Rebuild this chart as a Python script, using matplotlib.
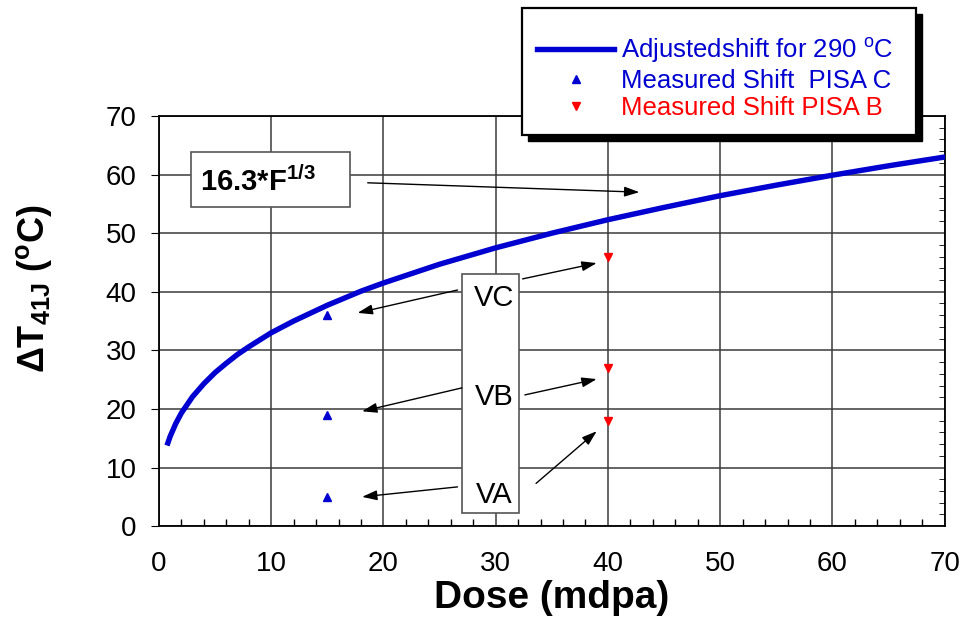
import numpy as np
import matplotlib
matplotlib.use('Agg')
import matplotlib.pyplot as plt
from matplotlib.patches import Rectangle
from matplotlib.lines import Line2D

plt.rcParams['font.family'] = ['Liberation Sans', 'DejaVu Sans']
plt.rcParams['mathtext.fontset'] = 'custom'
plt.rcParams['mathtext.rm'] = 'Liberation Sans'
plt.rcParams['mathtext.bf'] = 'Liberation Sans:bold'

# adjusted shift curve
dose = [0.8, 1, 1.5, 2, 3, 4, 5, 6, 7, 8, 10, 12, 15, 18, 20, 25, 30, 35,
        40, 45, 50, 55, 60, 65, 70]
shift = [14.2, 15.3, 17.5, 19.3, 22.1, 24.3, 26.2, 27.8, 29.3, 30.6, 33.0,
         35.0, 37.7, 40.1, 41.5, 44.7, 47.5, 50.0, 52.3, 54.4, 56.4, 58.2,
         59.9, 61.5, 63.0]

# measured shifts
pisa_c_dose = [15, 15, 15]
pisa_c_shift = [36, 19, 5]
pisa_b_dose = [40, 40, 40]
pisa_b_shift = [46, 27, 18]

labels = ['Adjustedshift for 290 $^{\\mathrm{o}}$C', 'Measured Shift  PISA C',
          'Measured Shift PISA B']

blue = '#0000d0'
red = '#ff0000'

fig = plt.figure(figsize=(9.63, 6.19), dpi=100)
ax = fig.add_axes([0.165, 0.150, 0.816, 0.6626])

ax.plot(dose, shift, color=blue, lw=3.9, zorder=4)
ax.plot(pisa_c_dose, pisa_c_shift, '^', color=blue, ms=6, zorder=4)
ax.plot(pisa_b_dose, pisa_b_shift, 'v', color=red, ms=6, zorder=4)

ax.set_xlim(0, 70)
ax.set_ylim(0, 70)
ax.set_xticks(np.arange(0, 71, 10))
ax.set_yticks(np.arange(0, 71, 10))
ax.set_xticks(np.arange(0, 71, 2), minor=True)
ax.set_yticks(np.arange(0, 71, 2), minor=True)
ax.grid(True, which='major', color='#3a3a3a', lw=1.1, zorder=0)
ax.set_axisbelow(True)
ax.tick_params(axis='x', which='major', direction='in', length=0, labelsize=20, pad=18)
ax.tick_params(axis='x', which='minor', direction='in', length=5, width=1)
ax.tick_params(axis='y', which='major', direction='out', length=6, labelsize=20, pad=10)
ax.tick_params(axis='y', which='minor', direction='in', left=False, right=True, length=4)
for s in ax.spines.values():
    s.set_linewidth(1.3)

ax.set_xlabel('Dose (mdpa)', fontsize=28, fontweight='bold', labelpad=2)
ax.set_ylabel('ΔT$_{\\mathbf{41J}}$ ($^{\\mathbf{o}}$C)', fontsize=26,
              fontweight='bold')
ax.yaxis.set_label_coords(-0.133, 0.58)

# formula box
ax.add_patch(Rectangle((2.9, 54.5), 14.1, 9.4, facecolor='white',
                       edgecolor='#555555', lw=1.2, zorder=3))
ax.text(3.7, 57.2, '16.3*F$^{\\mathbf{1/3}}$', fontsize=21, fontweight='bold',
        zorder=5)
arr = dict(arrowstyle='-|>,head_length=0.9,head_width=0.3', color='black',
           lw=1.0, shrinkA=0, shrinkB=0)
ax.annotate('', xy=(42.8, 57.0), xytext=(18.6, 58.6), arrowprops=arr, zorder=5)

# vessel box
ax.add_patch(Rectangle((27.0, 2.2), 5.1, 40.8, facecolor='white',
                       edgecolor='#555555', lw=1.2, zorder=3))
for txt, yy in [('VC', 38.9), ('VB', 22.0), ('VA', 5.3)]:
    ax.text(29.9, yy, txt, fontsize=21, ha='center', va='center', zorder=5)
arrows = [((26.6, 40.3), (17.7, 36.4)),
          ((32.4, 42.2), (39.0, 44.9)),
          ((27.0, 23.6), (18.1, 19.6)),
          ((32.6, 22.4), (39.0, 25.1)),
          ((26.6, 6.7), (18.1, 5.0)),
          ((33.6, 7.3), (39.0, 16.2))]
for start, end in arrows:
    ax.annotate('', xy=end, xytext=start, arrowprops=arr, zorder=5)

# legend box with shadow, outside the axes
W, H = 963.0, 619.0
x0, x1, y0, y1 = 522, 916, 8, 135
fig.patches.append(Rectangle(((x0 + 6) / W, 1 - (y1 + 6) / H), (x1 - x0) / W,
                             (y1 - y0) / H, transform=fig.transFigure,
                             facecolor='black', edgecolor='black', zorder=2))
fig.patches.append(Rectangle((x0 / W, 1 - y1 / H), (x1 - x0) / W,
                             (y1 - y0) / H, transform=fig.transFigure,
                             facecolor='white', edgecolor='black', lw=1.6,
                             zorder=3))
handles = [Line2D([], [], color=blue, lw=3.9),
           Line2D([], [], color=blue, marker='^', ls='none', ms=6),
           Line2D([], [], color=red, marker='v', ls='none', ms=6)]
leg = fig.legend(handles, labels, loc='upper left',
                 bbox_to_anchor=(537 / W, 1 - 35 / H), frameon=False,
                 fontsize=18.5, handlelength=3.0, handletextpad=0.27,
                 labelspacing=0.15, borderpad=0, borderaxespad=0,
                 labelcolor=[blue, blue, red])
leg.set_zorder(6)

fig.savefig('out.png', dpi=100)
